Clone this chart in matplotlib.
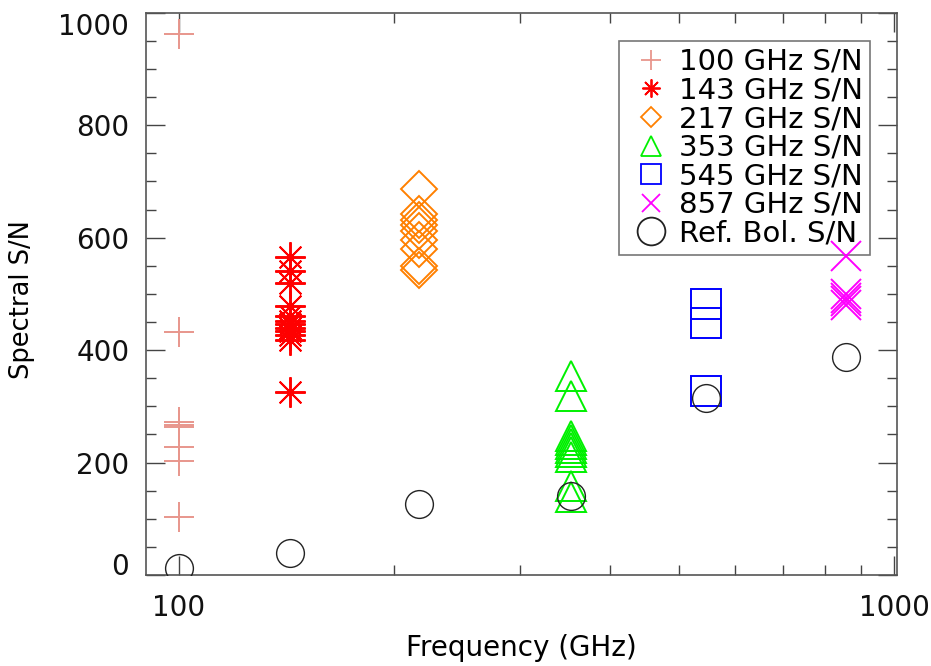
import matplotlib
matplotlib.use('Agg')
import matplotlib.pyplot as plt
from matplotlib.lines import Line2D
from matplotlib.ticker import FixedLocator, MultipleLocator, NullFormatter

# Data
bands = [100, 143, 217, 353, 545, 857]
sn100 = [963, 432, 272, 266, 263, 228, 203, 104]
sn143 = [566, 540, 520, 478, 460, 452, 446, 440, 434, 426, 418, 326]
sn217 = [686, 642, 632, 622, 612, 596, 580, 550, 543]
sn353 = [354, 318, 248, 240, 233, 226, 218, 210, 158, 138]
sn545 = [482, 448, 328]
sn857 = [567, 500, 493, 487, 480]
ref_sn = [12, 39, 126, 141, 315, 388]

labels = ['100 GHz S/N', '143 GHz S/N', '217 GHz S/N', '353 GHz S/N',
          '545 GHz S/N', '857 GHz S/N', 'Ref. Bol. S/N']
colors = ['#E8968C', '#FF0000', '#FF8000', '#00F000', '#0000FF', '#FF00FF', 'black']
markers = ['+', (8, 2, 0), 'D', '^', 's', 'x', 'o']
sizes = [22, 22, 18, 22, 22, 22, 20]
leg_sizes = [14, 13, 10, 14, 14, 13, 20]

fig = plt.figure(figsize=(9.31, 6.66), dpi=100)
ax = fig.add_axes([146/931, 91/666, 750.7/931, 562.3/666])

series = [sn100, sn143, sn217, sn353, sn545, sn857]
for i, vals in enumerate(series):
    ax.plot([bands[i]]*len(vals), vals, linestyle='none', marker=markers[i],
            markersize=sizes[i], markerfacecolor='none', markeredgecolor=colors[i],
            markeredgewidth=1.4, zorder=6)
ax.plot(bands, ref_sn, linestyle='none', marker='o', markersize=sizes[6],
        markerfacecolor='none', markeredgecolor='#222222', markeredgewidth=1.0,
        zorder=6)

ax.set_xscale('log')
ax.set_xlim(90, 1008)
ax.set_ylim(0, 1000)

ax.xaxis.set_major_locator(FixedLocator([100, 1000]))
ax.set_xticklabels(['100', '1000'])
ax.xaxis.set_minor_locator(FixedLocator([200, 300, 400, 500, 600, 700, 800, 900]))
ax.xaxis.set_minor_formatter(NullFormatter())
ax.yaxis.set_major_locator(FixedLocator([0, 200, 400, 600, 800, 1000]))
ax.yaxis.set_minor_locator(MultipleLocator(50))

ax.tick_params(which='both', direction='in', top=True, right=True,
               color='#444444', width=1.0, labelsize=20, labelcolor='#111111')
ax.tick_params(which='major', length=14)
ax.tick_params(which='minor', length=7)
ax.tick_params(axis='x', pad=14)
ax.tick_params(axis='y', pad=12)
for s in ax.spines.values():
    s.set_color('#555555')
    s.set_linewidth(1.2)

# IDL puts the end labels inside the axis range
yticks = ax.yaxis.get_major_ticks()
yticks[0].label1.set_va('baseline')
yticks[-1].label1.set_va('top')

ax.set_xlabel('Frequency (GHz)', fontsize=20, labelpad=8)
ax.set_ylabel('Spectral S/N', fontsize=18.5)
ax.yaxis.set_label_coords(-0.148, 0.49)

handles = []
for i in range(7):
    ec = colors[i] if i < 6 else '#222222'
    handles.append(Line2D([], [], linestyle='none', marker=markers[i],
                          markersize=leg_sizes[i], markerfacecolor='none',
                          markeredgecolor=ec, markeredgewidth=1.3))
leg = ax.legend(handles, labels, loc='upper right',
                bbox_to_anchor=((870-146)/750.7, (575-40.7)/562.3),
                borderaxespad=0, fontsize=21, labelspacing=0.02,
                handletextpad=0.1, handlelength=1.7, borderpad=0.25,
                fancybox=False)
leg.set_zorder(5)
leg.get_frame().set_facecolor('none')
leg.get_frame().set_edgecolor('#555555')
leg.get_frame().set_linewidth(1.2)

fig.savefig('out.png', dpi=100)
